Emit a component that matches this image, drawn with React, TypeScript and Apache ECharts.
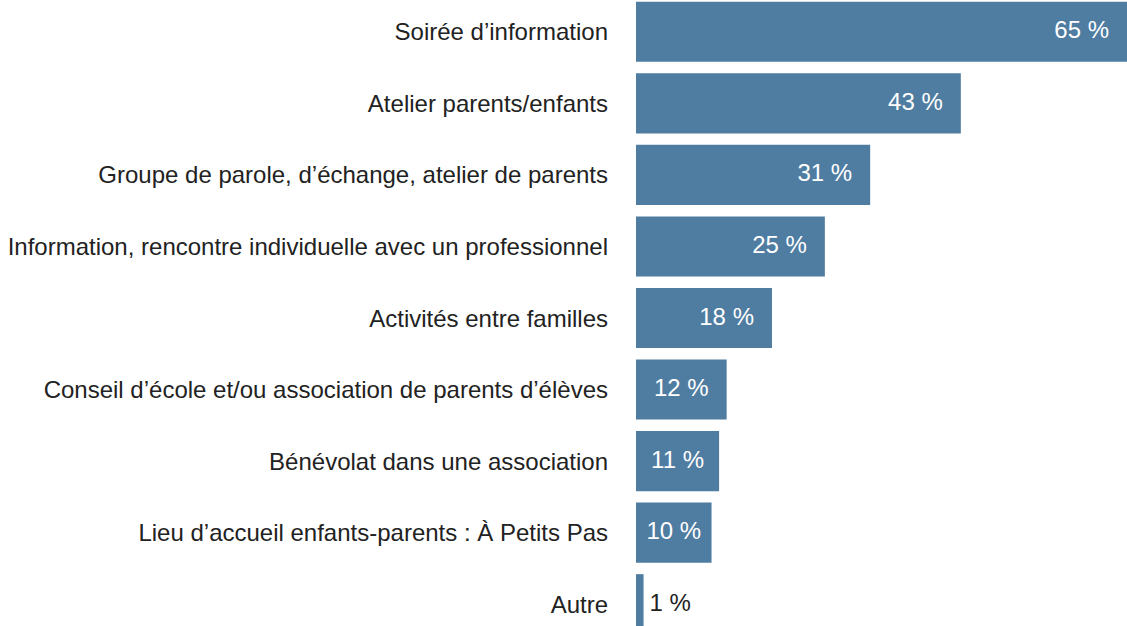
import React, { useEffect, useRef } from "react";
import * as echarts from "echarts";

const categories = [
  "Soirée d’information",
  "Atelier parents/enfants",
  "Groupe de parole, d’échange, atelier de parents",
  "Information, rencontre individuelle avec un professionnel",
  "Activités entre familles",
  "Conseil d’école et/ou association de parents d’élèves",
  "Bénévolat dans une association",
  "Lieu d’accueil enfants-parents : À Petits Pas",
  "Autre",
];
const values = [65, 43, 31, 25, 18, 12, 11, 10, 1];

export default function App() {
  const ref = useRef<HTMLDivElement>(null);
  useEffect(() => {
    document.body.style.margin = "0";
    const chart = echarts.init(ref.current!, null, { renderer: "svg" });
    const font = "Liberation Sans, Arial, sans-serif";
    chart.setOption({
      animation: false,
      grid: { left: 636, right: 0, top: 0, bottom: 0, containLabel: false },
      xAxis: {
        type: "value",
        min: 0,
        max: 65,
        show: false,
      },
      yAxis: {
        type: "category",
        inverse: true,
        data: categories,
        axisLine: { show: false },
        axisTick: { show: false },
        axisLabel: {
          fontSize: 24,
          color: "#222",
          fontFamily: font,
          margin: 28,
          padding: [0, 0, 4, 0],
        },
      },
      series: [
        {
          type: "bar",
          data: values.map((v) => ({
            value: v,
            label:
              v < 5
                ? { position: "right", color: "#222", distance: 6 }
                : v <= 12
                ? { position: "inside", color: "#fff" }
                : { position: "insideRight", color: "#fff", distance: 18 },
          })),
          barCategoryGap: "16%",
          itemStyle: { color: "#4f7ca1" },
          label: {
            show: true,
            fontSize: 24,
            fontFamily: font,
            offset: [0, -2],
            formatter: (p: any) => p.value + " %",
          },
        },
      ],
    });
    return () => chart.dispose();
  }, []);
  return (
    <div
      ref={ref}
      style={{ position: "absolute", left: 0, top: -4, width: 1127, height: 644 }}
    />
  );
}
